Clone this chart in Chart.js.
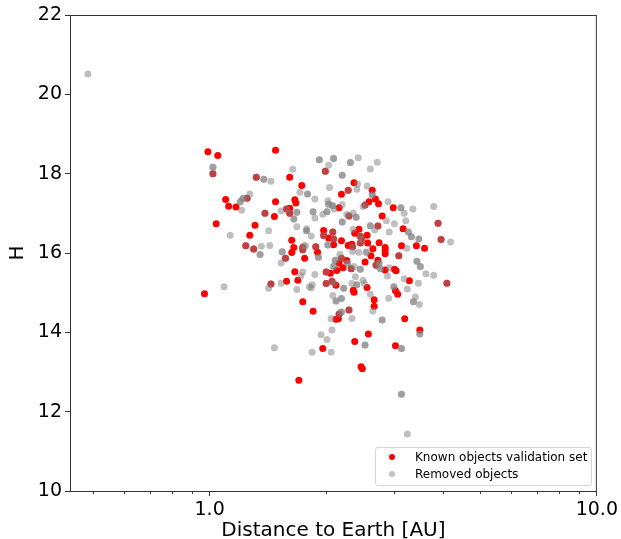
<!DOCTYPE html>
<html>
<head>
<meta charset="utf-8">
<script src="https://cdn.jsdelivr.net/npm/chart.js@4/dist/chart.umd.min.js"></script>
<style>
    body { margin: 0; background: #fff; }
    #wrap { position: relative; width: 621px; height: 539px; }
    .legend {
        position: absolute; left: 375px; top: 447px; width: 215px; height: 37px;
        border: 1px solid #d6d6d6; border-radius: 3px; background: rgba(255,255,255,0.8);
        font-family: 'DejaVu Sans', sans-serif; font-size: 12px; color: #000;
    }
    .legend .row { position: absolute; left: 0; height: 16px; line-height: 16px; }
    .legend .dot { position: absolute; left: 13px; top: 5px; width: 6px; height: 6px; border-radius: 50%; }
    .legend .txt { position: absolute; left: 39px; white-space: nowrap; }
</style>
</head>
<body>
<div id="wrap">
    <canvas id="chart" width="621" height="539"></canvas>
    <div class="legend">
        <div class="row" style="top:1px"><span class="dot" style="background:#ff0000"></span><span class="txt">Known objects validation set</span></div>
        <div class="row" style="top:18px"><span class="dot" style="background:#c0c0c0"></span><span class="txt">Removed objects</span></div>
    </div>
</div>
<script>
    // known objects (validation set)
    var knownDist = [0.99, 1.05, 1.02, 1.48, 1.32, 1.61, 1.73, 1.10, 1.12, 1.17, 1.25, 1.48, 1.39, 1.47, 1.58, 1.61,
        1.66, 1.67, 1.61, 1.04, 1.31, 1.27, 1.63, 1.24, 1.30, 1.65, 1.74, 1.74, 1.57, 1.63, 1.76, 1.66, 1.58, 1.69,
        1.74, 1.44, 0.97, 1.99, 2.19, 2.28, 2.36, 2.63, 2.68, 2.58, 2.52, 2.73, 2.98, 2.16, 2.29, 2.79, 3.16, 3.89,
        3.96, 1.97, 1.97, 2.03, 2.08, 2.09, 2.19, 2.37, 2.43, 2.45, 2.47, 2.55, 2.72, 2.74, 2.56, 2.33, 2.28, 2.84,
        3.42, 3.59, 1.88, 1.90, 2.09, 2.34, 2.45, 2.64, 2.84, 2.84, 3.13, 3.08, 4.10, 2.26, 2.19, 2.16, 2.21, 2.13,
        2.05, 2.00, 2.32, 2.52, 2.61, 2.72, 2.69, 2.84, 3.00, 3.03, 3.28, 3.02, 3.06, 3.19, 3.49, 3.02, 2.57, 2.37,
        2.66, 2.66, 2.55, 2.35, 2.36, 2.12, 2.07, 2.00, 1.85, 2.16, 2.29, 2.15, 2.12, 1.96, 2.46, 2.48, 1.70]
    var knownH = [18.55, 18.46, 18.00, 18.59, 17.91, 17.91, 17.70, 17.35, 17.18, 17.16, 17.38, 17.29, 17.00, 16.92,
        17.11, 17.00, 17.34, 17.26, 17.13, 16.74, 16.70, 16.45, 16.32, 16.18, 16.10, 16.14, 16.14, 16.08, 15.87, 16.01,
        15.87, 15.53, 15.29, 15.31, 14.77, 15.22, 14.97, 18.06, 17.48, 17.58, 17.77, 17.58, 17.36, 17.29, 17.21, 17.24,
        17.14, 17.14, 16.93, 16.93, 16.61, 16.75, 16.34, 16.57, 16.44, 16.38, 16.53, 16.35, 16.31, 16.50, 16.60, 16.42,
        16.35, 16.45, 16.68, 16.26, 16.25, 16.22, 16.19, 16.14, 16.18, 16.12, 16.16, 16.02, 16.21, 16.16, 16.25, 16.11,
        16.07, 15.98, 16.18, 15.93, 15.24, 15.81, 15.87, 15.74, 15.63, 15.56, 15.49, 15.52, 15.60, 15.77, 15.93, 15.82,
        15.69, 15.57, 15.59, 15.55, 15.30, 15.05, 14.96, 14.34, 14.06, 13.66, 13.96, 13.77, 14.82, 14.66, 15.13, 15.06,
        15.01, 15.19, 15.29, 15.23, 14.53, 14.46, 14.56, 14.34, 14.33, 13.59, 13.13, 13.08, 12.79]

    // removed objects
    var removedDist = [1.02, 1.32, 1.44, 1.64, 1.71, 1.21, 1.25, 1.27, 1.39, 1.53, 1.58, 1.61, 1.68, 1.13, 1.42, 1.78,
        1.24, 1.30, 1.36, 1.43, 1.74, 1.57, 1.77, 1.53, 1.74, 1.72, 1.68, 1.44, 1.42, 1.53, 1.09, 1.47, 1.81, 2.03,
        2.42, 2.71, 2.60, 1.99, 1.87, 2.04, 2.28, 2.41, 2.40, 2.55, 2.52, 2.49, 2.89, 3.18, 3.35, 3.79, 2.02, 2.10,
        2.20, 1.87, 1.96, 2.26, 2.29, 2.35, 2.86, 3.00, 3.21, 3.89, 3.96, 4.19, 1.83, 1.97, 2.08, 2.09, 2.35, 2.45,
        2.47, 2.72, 2.67, 3.23, 2.91, 1.75, 1.88, 2.34, 2.34, 2.45, 2.43, 3.08, 3.62, 3.79, 4.10, 2.17, 2.19, 2.00,
        2.32, 2.36, 2.38, 2.69, 2.91, 2.88, 3.18, 3.46, 3.24, 3.40, 3.48, 2.90, 2.64, 2.60, 2.49, 2.51, 2.33, 2.07,
        2.00, 2.10, 1.84, 1.83, 1.87, 2.08, 2.16, 2.29, 2.33, 2.06, 2.07, 2.01, 1.94, 1.84, 2.06, 3.24, 0.485]
    var removedH = [18.00, 17.91, 17.81, 18.11, 17.53, 17.08, 17.38, 17.49, 17.00, 17.06, 17.11, 17.00, 16.66, 16.45,
        16.56, 16.61, 16.18, 16.10, 16.17, 16.19, 16.08, 15.87, 16.18, 15.75, 15.52, 15.42, 15.08, 15.22, 15.11, 15.24,
        15.15, 13.61, 15.15, 18.21, 18.40, 18.29, 18.12, 18.06, 17.36, 17.65, 17.58, 17.74, 17.61, 17.69, 17.21, 17.17,
        17.29, 17.00, 17.11, 17.17, 17.32, 17.11, 17.22, 16.88, 16.98, 16.97, 16.93, 17.01, 16.81, 16.74, 16.81, 16.75,
        16.34, 16.28, 16.43, 16.44, 16.53, 16.35, 16.60, 16.42, 16.35, 16.68, 16.58, 16.12, 16.53, 16.18, 16.16, 16.16,
        16.04, 16.25, 16.02, 15.93, 15.48, 15.44, 15.24, 15.96, 15.87, 15.52, 15.60, 15.66, 15.40, 15.69, 15.63, 15.42,
        15.35, 15.24, 15.09, 14.89, 14.70, 14.86, 14.54, 14.96, 15.31, 15.23, 15.23, 15.29, 15.23, 15.23, 15.20, 15.12,
        15.46, 14.93, 14.46, 14.56, 14.35, 14.34, 14.06, 13.82, 13.94, 13.50, 13.50, 11.44, 20.51]

    // removed objects that show up twice at the same spot
    var doubleDist = [1.02, 1.38, 1.79, 1.20, 1.22, 1.65, 1.68, 1.35, 1.54, 1.92, 2.09, 2.31, 2.20, 2.63, 3.12, 2.03,
        2.08, 1.85, 2.01, 2.20, 2.39, 3.26, 3.32, 3.47, 1.78, 2.60, 1.91, 2.02, 2.54, 3.43, 3.50, 2.11, 2.27, 2.09,
        2.45, 2.76, 2.74, 2.99, 3.36, 3.49, 3.13, 2.79, 2.52, 2.40, 2.22, 2.12, 2.19, 2.19, 3.13]
    var doubleH = [18.16, 17.86, 17.49, 17.29, 17.38, 16.86, 17.03, 15.96, 16.03, 18.35, 18.38, 18.28, 17.96, 17.46,
        17.14, 17.23, 17.19, 17.04, 17.04, 16.78, 16.90, 16.53, 16.41, 16.35, 16.56, 16.69, 15.89, 16.20, 16.02, 15.79,
        15.66, 15.82, 15.74, 15.66, 15.59, 15.60, 15.74, 15.15, 14.77, 13.96, 13.59, 14.31, 13.68, 15.20, 15.11, 14.79,
        14.85, 14.51, 12.44]

    var xMin = 0.436
    var xMax = 10
    var xMajor = [1, 10]
    var xMinor = [0.5, 0.6, 0.7, 0.8, 0.9, 2, 3, 4, 5, 6, 7, 8, 9]
    var yTicks = [10, 12, 14, 16, 18, 20, 22]

    function points(xs, ys) {
        return xs.map(function(x, i) { return { x: x, y: ys[i] } })
    }

    var removedPoints = points(removedDist, removedH)
        .concat(points(doubleDist, doubleH))
        .concat(points(doubleDist, doubleH))

    var axisColor = '#333'

    var frame = {
        id: 'frame',
        afterDraw(chart) {
            var { ctx, chartArea } = chart
            var x = chart.scales.x
            ctx.save()
            ctx.strokeStyle = axisColor
            ctx.lineWidth = 1
            ctx.strokeRect(chartArea.left + 0.5, chartArea.top + 0.5,
                chartArea.right - chartArea.left - 1, chartArea.bottom - chartArea.top)
            ctx.beginPath()
            xMinor.forEach(function(v) {
                var px = Math.round(x.getPixelForValue(v)) + 0.5
                ctx.moveTo(px, chartArea.bottom)
                ctx.lineTo(px, chartArea.bottom + 3)
            })
            ctx.stroke()
            ctx.restore()
        }
    }

    Chart.defaults.font.family = "'DejaVu Sans', sans-serif"
    Chart.defaults.color = '#000'

    new Chart(document.getElementById('chart'), {
        type: 'scatter',
        data: {
            datasets: [
                {
                    label: 'Known objects validation set',
                    data: points(knownDist, knownH),
                    backgroundColor: 'rgb(255, 0, 0)',
                    borderWidth: 0,
                    pointRadius: 3.5,
                    order: 1
                },
                {
                    label: 'Removed objects',
                    data: removedPoints,
                    backgroundColor: 'rgba(128, 128, 128, 0.5)',
                    borderWidth: 0,
                    pointRadius: 3.5,
                    order: 0
                }
            ]
        },
        options: {
            responsive: false,
            animation: false,
            layout: { padding: { top: 15, right: 23, left: 0, bottom: 0 } },
            plugins: {
                legend: { display: false },
                tooltip: { enabled: false }
            },
            scales: {
                x: {
                    type: 'logarithmic',
                    min: xMin,
                    max: xMax,
                    afterBuildTicks(scale) {
                        scale.ticks = xMajor.map(function(v) { return { value: v } })
                    },
                    afterFit(scale) { scale.height = 48 },
                    ticks: {
                        autoSkip: false,
                        maxRotation: 0,
                        padding: 3,
                        font: { size: 19 },
                        callback: function(v) { return Number(v).toFixed(1) }
                    },
                    grid: { drawOnChartArea: false, tickLength: 5, color: axisColor },
                    border: { color: axisColor },
                    title: {
                        display: true,
                        text: 'Distance to Earth [AU]',
                        font: { size: 20, lineHeight: 1 },
                        padding: { top: 0, bottom: -2 }
                    }
                },
                y: {
                    min: 10,
                    max: 22,
                    afterBuildTicks(scale) {
                        scale.ticks = yTicks.map(function(v) { return { value: v } })
                    },
                    afterFit(scale) { scale.width = 70 },
                    ticks: { padding: 3, font: { size: 19 } },
                    grid: { drawOnChartArea: false, tickLength: 5, color: axisColor },
                    border: { color: axisColor },
                    title: {
                        display: true,
                        text: 'H',
                        font: { size: 20, lineHeight: 1 },
                        padding: { top: 8, bottom: 0 }
                    }
                }
            }
        },
        plugins: [frame]
    })
</script>
</body>
</html>
